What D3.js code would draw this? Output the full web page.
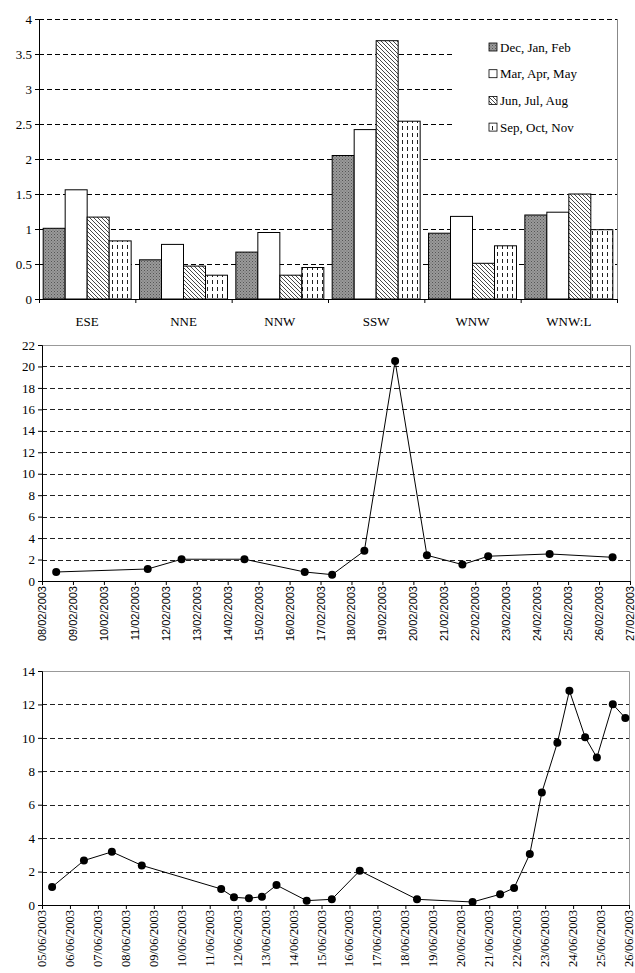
<!DOCTYPE html>
<html>
<head>
<meta charset="utf-8">
<script src="https://cdn.jsdelivr.net/npm/d3@7"></script>
<style>
  body { margin: 0; background: #fff; }
</style>
</head>
<body>
<svg id="fig" width="635" height="973"></svg>
<script>
// ---- data: seasonal means by wind sector ----
var sectors = ["ESE", "NNE", "NNW", "SSW", "WNW", "WNW:L"];
var seasons = ["Dec, Jan, Feb", "Mar, Apr, May", "Jun, Jul, Aug", "Sep, Oct, Nov"];
var djf = [1.01, 0.56, 0.67, 2.05, 0.94, 1.20];
var mam = [1.56, 0.78, 0.95, 2.42, 1.18, 1.24];
var jja = [1.17, 0.47, 0.34, 3.69, 0.51, 1.50];
var son = [0.83, 0.34, 0.45, 2.54, 0.76, 0.99];
var barTicks = [0, 0.5, 1, 1.5, 2, 2.5, 3, 3.5, 4];

// ---- data: February 2003 series ----
var febDates = ["08/02/2003 11:00", "11/02/2003 10:00", "12/02/2003 12:15", "14/02/2003 13:00",
  "16/02/2003 11:45", "17/02/2003 09:00", "18/02/2003 10:00", "19/02/2003 09:50",
  "20/02/2003 10:30", "21/02/2003 14:00", "22/02/2003 10:00", "24/02/2003 09:40",
  "26/02/2003 10:30"];
var febValues = [0.84, 1.12, 2.03, 2.03, 0.84, 0.59, 2.81, 20.5, 2.40, 1.53, 2.31, 2.52, 2.21];
var febTicks = [0, 2, 4, 6, 8, 10, 12, 14, 16, 18, 20, 22];

// ---- data: June 2003 series ----
var junDates = ["05/06/2003 08:40", "06/06/2003 12:00", "07/06/2003 12:00", "08/06/2003 13:40",
  "11/06/2003 09:50", "11/06/2003 20:50", "12/06/2003 09:40", "12/06/2003 20:50",
  "13/06/2003 09:20", "14/06/2003 11:15", "15/06/2003 08:50", "16/06/2003 08:50",
  "18/06/2003 10:00", "20/06/2003 09:40", "21/06/2003 09:20", "21/06/2003 21:20",
  "22/06/2003 10:50", "22/06/2003 21:10", "23/06/2003 10:30", "23/06/2003 20:50",
  "24/06/2003 10:20", "24/06/2003 20:25", "25/06/2003 10:05", "25/06/2003 20:50"];
var junValues = [1.08, 2.66, 3.18, 2.37, 0.96, 0.46, 0.40, 0.50, 1.19, 0.26, 0.34, 2.05,
  0.34, 0.18, 0.64, 1.02, 3.05, 6.73, 9.70, 12.82, 10.04, 8.82, 12.01, 11.19];
var junTicks = [0, 2, 4, 6, 8, 10, 12, 14];

var SERIF = "'Liberation Serif', 'Times New Roman', serif";
var SANS = "'Liberation Sans', Arial, sans-serif";

var svg = d3.select("#fig");
var parse = d3.timeParse("%d/%m/%Y %H:%M");
var fmt = d3.timeFormat("%d/%m/%Y");

// patterns for the bar fills
var defs = svg.append("defs");
var p1 = defs.append("pattern").attr("id", "pDjf").attr("patternUnits", "userSpaceOnUse")
  .attr("width", 3).attr("height", 3);
p1.append("rect").attr("width", 3).attr("height", 3).attr("fill", "#9a9a9a");
p1.append("rect").attr("width", 1).attr("height", 1).attr("fill", "#555");
p1.append("rect").attr("x", 1.5).attr("y", 1.5).attr("width", 1).attr("height", 1).attr("fill", "#666");

var p3 = defs.append("pattern").attr("id", "pJja").attr("patternUnits", "userSpaceOnUse")
  .attr("width", 4).attr("height", 4);
p3.append("rect").attr("width", 4).attr("height", 4).attr("fill", "#fff");
p3.append("path").attr("d", "M-1,-1 L5,5 M-1,3 L1,5 M3,-1 L5,1").attr("stroke", "#333").attr("stroke-width", 0.9);

var p4 = defs.append("pattern").attr("id", "pSon").attr("patternUnits", "userSpaceOnUse")
  .attr("width", 5).attr("height", 7);
p4.append("rect").attr("width", 5).attr("height", 7).attr("fill", "#fff");
p4.append("path").attr("d", "M2.5,0 L2.5,4").attr("stroke", "#222").attr("stroke-width", 1);

var fills = ["url(#pDjf)", "#fff", "url(#pJja)", "url(#pSon)"];

// ================= chart 1 : bars =================
(function () {
  var L = 39, R = 617, T = 19, B = 299;
  var x = d3.scaleBand().domain(sectors).range([L, R]).paddingInner(0).paddingOuter(0);
  var x1 = d3.scaleBand().domain(d3.range(4)).range([0, x.bandwidth()]).paddingOuter(0.19).paddingInner(0);
  var y = d3.scaleLinear().domain([0, 4]).range([B, T]);
  var series = [djf, mam, jja, son];

  var g = svg.append("g");
  // grid
  g.selectAll(".grid").data(barTicks.filter(function (d) { return d > 0; })).enter().append("line")
    .attr("x1", L).attr("x2", function (d) { return d >= 2.5 && d < 4 ? 455 : R; })
    .attr("y1", function (d) { return y(d) + 0.5; }).attr("y2", function (d) { return y(d) + 0.5; })
    .attr("stroke", "#000").attr("stroke-dasharray", "5,3");
  g.append("line").attr("x1", R + 0.5).attr("x2", R + 0.5).attr("y1", T).attr("y2", B)
    .attr("stroke", "#888");

  // bars
  sectors.forEach(function (s, i) {
    series.forEach(function (vals, k) {
      g.append("rect")
        .attr("x", x(s) + x1(k)).attr("width", x1.bandwidth())
        .attr("y", y(vals[i])).attr("height", B - y(vals[i]))
        .attr("fill", fills[k]).attr("stroke", "#000").attr("stroke-width", 1);
    });
  });

  // axes
  var ya = d3.axisLeft(y).tickValues(barTicks).tickSize(4).tickFormat(d3.format("~g"));
  g.append("g").attr("transform", "translate(" + L + ",0)").call(ya)
    .call(function (a) { a.selectAll("text").style("font-size", "13px").style("font-family", SERIF); });
  var xa = d3.axisBottom(d3.scaleLinear().domain([0, 6]).range([L, R])).ticks(6).tickSize(4).tickFormat("");
  g.append("g").attr("transform", "translate(0," + B + ")").call(xa);
  g.selectAll(".cat").data(sectors).enter().append("text")
    .attr("x", function (d) { return x(d) + x.bandwidth() / 2; }).attr("y", 326)
    .attr("text-anchor", "middle").style("font-size", "13px").style("font-family", SERIF)
    .text(function (d) { return d; });

  // legend
  var lg = g.append("g");
  seasons.forEach(function (s, k) {
    var yy = 47 + k * 26.7;
    lg.append("rect").attr("x", 489).attr("y", yy - 4).attr("width", 8).attr("height", 8)
      .attr("fill", fills[k]).attr("stroke", "#000").attr("stroke-width", 0.8);
    lg.append("text").attr("x", 500).attr("y", yy + 4.5)
      .style("font-size", "13px").style("font-family", SERIF).text(s);
  });
})();

// ================= line charts =================
function lineChart(opt) {
  var x = d3.scaleTime().domain(opt.domain).range([opt.L, opt.R]);
  var y = d3.scaleLinear().domain([0, opt.max]).range([opt.B, opt.T]);
  var g = svg.append("g");

  g.selectAll(".grid").data(opt.ticks.filter(function (d) { return d > 0 && d < opt.max; })).enter().append("line")
    .attr("x1", opt.L).attr("x2", opt.R)
    .attr("y1", function (d) { return Math.round(y(d)) + 0.5; }).attr("y2", function (d) { return Math.round(y(d)) + 0.5; })
    .attr("stroke", "#222").attr("stroke-dasharray", "5,3");
  g.append("path")
    .attr("d", "M" + opt.L + "," + (opt.T + 0.5) + "H" + (opt.R + 0.5) + "V" + opt.B)
    .attr("fill", "none").attr("stroke", "#999");

  var ya = d3.axisLeft(y).tickValues(opt.ticks).tickSize(4);
  g.append("g").attr("transform", "translate(" + opt.L + ",0)").call(ya)
    .call(function (a) { a.selectAll("text").style("font-size", "13px").style("font-family", SERIF); });

  var days = d3.timeDay.range(opt.domain[0], d3.timeDay.offset(opt.domain[1], 1));
  var xa = d3.axisBottom(x).tickValues(days).tickSize(4).tickFormat("");
  g.append("g").attr("transform", "translate(0," + opt.B + ")").call(xa);
  g.selectAll(".dl").data(days).enter().append("text")
    .attr("transform", function (d) { return "translate(" + (x(d) + 4) + "," + (opt.B + 5) + ") rotate(-90)"; })
    .attr("text-anchor", "end").style("font-size", opt.labelSize + "px")
    .style("font-family", opt.labelFont).text(fmt);

  var pts = opt.dates.map(function (d, i) { return [parse(d), opt.values[i]]; });
  var line = d3.line().x(function (d) { return x(d[0]); }).y(function (d) { return y(d[1]); });
  g.append("path").datum(pts).attr("d", line).attr("fill", "none").attr("stroke", "#000").attr("stroke-width", 1);
  g.selectAll(".pt").data(pts).enter().append("circle")
    .attr("cx", function (d) { return x(d[0]); }).attr("cy", function (d) { return y(d[1]); })
    .attr("r", 4).attr("fill", "#000");
}

lineChart({
  L: 42, R: 630, T: 345, B: 581, max: 22, ticks: febTicks,
  domain: [new Date(2003, 1, 8), new Date(2003, 1, 27)],
  dates: febDates, values: febValues,
  labelSize: 11, labelFont: SANS
});

lineChart({
  L: 42, R: 629, T: 671, B: 905, max: 14, ticks: junTicks,
  domain: [new Date(2003, 5, 5), new Date(2003, 5, 26)],
  dates: junDates, values: junValues,
  labelSize: 12.5, labelFont: SERIF
});
</script>
</body>
</html>
